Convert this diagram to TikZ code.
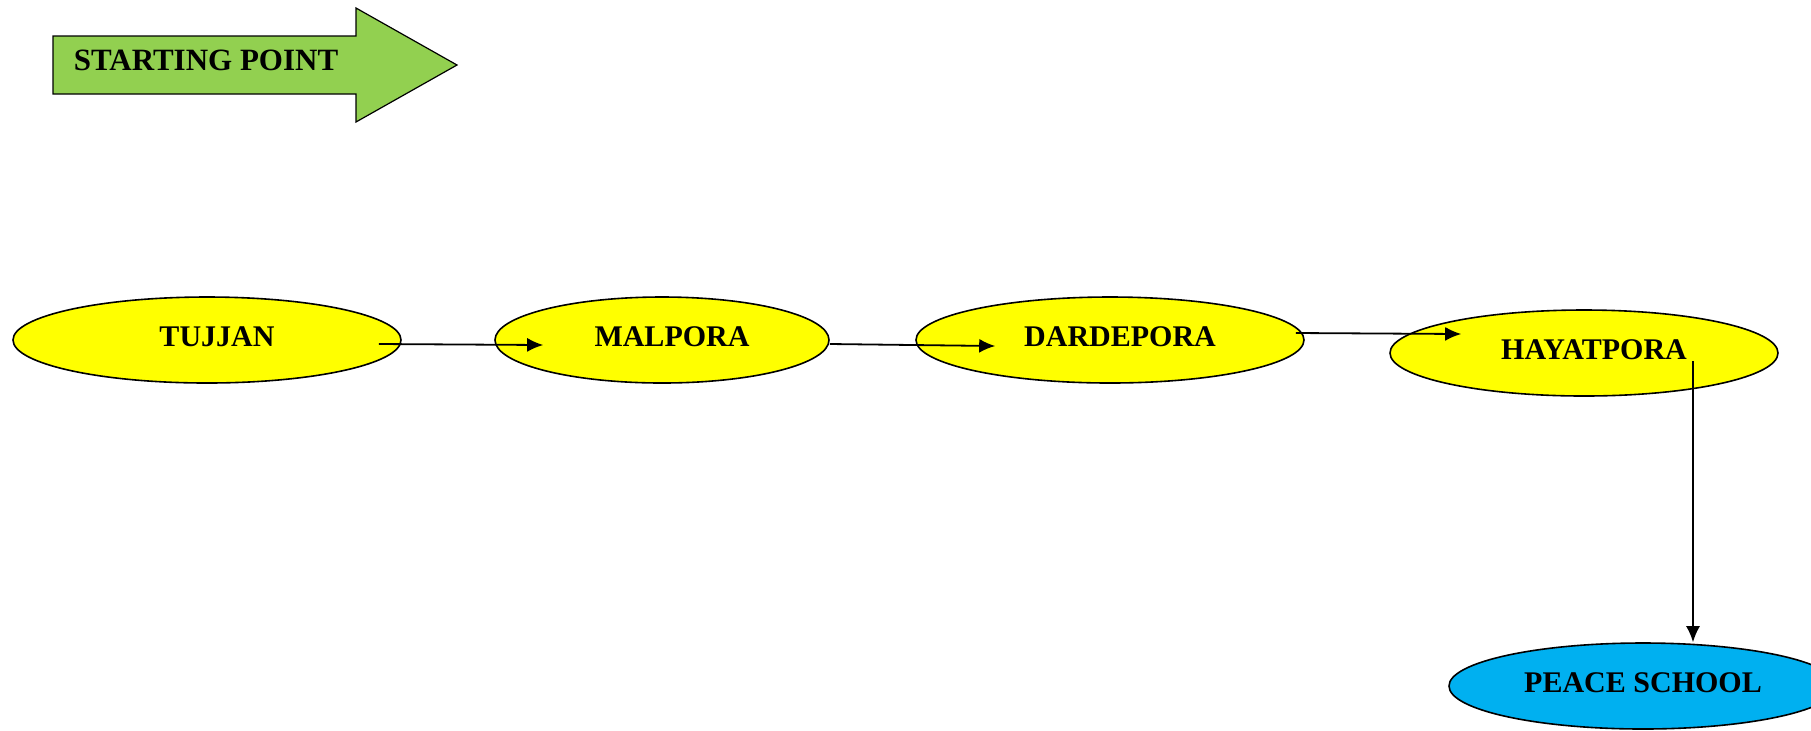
\documentclass[tikz,border=0pt]{standalone}
\usepackage{fontspec}
\setmainfont{Liberation Serif}
\usetikzlibrary{arrows.meta, calc, shapes.geometric}

\definecolor{placeyellow}{RGB}{255,255,0}
\definecolor{startgreen}{RGB}{146,208,80}
\definecolor{schoolblue}{RGB}{0,176,240}

\tikzset{
  place/.style={ellipse, draw, line width=0.8pt, fill=placeyellow, inner sep=0pt,
    minimum width=194pt, minimum height=43pt, text depth=3.5pt,
    font=\fontsize{15}{17}\selectfont\bfseries},
  textright/.style={execute at begin node={\hspace*{10pt}}},
  route/.style={-{Latex[length=8pt, width=7pt]}, line width=0.9pt},
}

\begin{document}
\begin{tikzpicture}[x=0.5pt, y=-0.5pt]
\useasboundingbox (0,0) rectangle (1811,730);

% Draw starting arrow
\draw[fill=startgreen, line width=0.6pt] (53,36) -- (356,36) -- (356,8) -- (457,65)
  -- (356,122) -- (356,94) -- (53,94) -- cycle;
\node[font=\fontsize{15.5}{17}\selectfont\bfseries] (start) at (206,60) {STARTING POINT};

% Villages on the route
\node[place, textright] (tujjan) at (207,340) {TUJJAN};
\node[place, textright, minimum width=167pt] (malpora) at (662,340) {MALPORA};
\node[place, textright] (dardepora) at (1110,340) {DARDEPORA};
\node[place, textright] (hayatpora) at (1584,353) {HAYATPORA};
\node[place, fill=schoolblue] (school) at (1643,686) {PEACE SCHOOL};

% Draw route
\draw[route] ([xshift=-11.5pt, yshift=-2pt]tujjan.east) -- ([xshift=24.5pt, yshift=-2.5pt]malpora.west);
\draw[route] ([yshift=-2pt]malpora.east) -- ([xshift=40pt, yshift=-3pt]dardepora.west);
\draw[route] ([xshift=-4.5pt, yshift=3.5pt]dardepora.east) -- ([xshift=36pt, yshift=9.5pt]hayatpora.west);
\draw[route] ([xshift=54.5pt, yshift=-4pt]hayatpora.center) -- ([xshift=54.5pt]hayatpora.center |- school.north);

\end{tikzpicture}
\end{document}
